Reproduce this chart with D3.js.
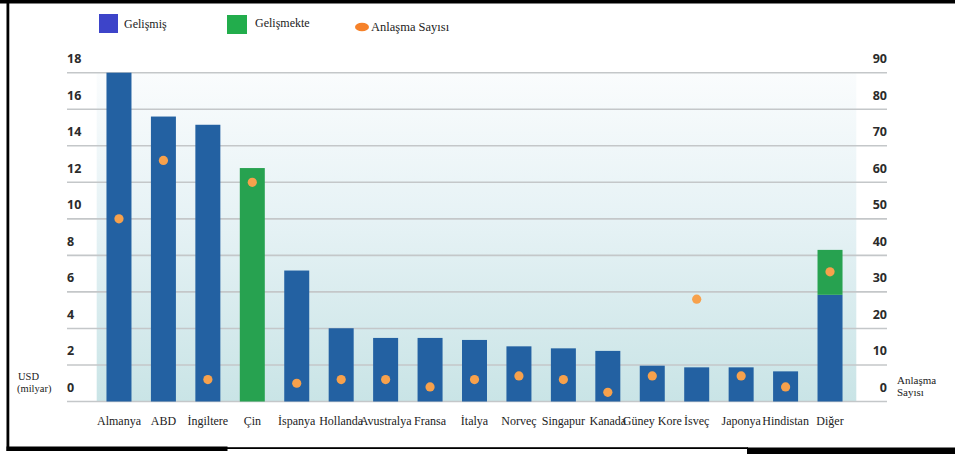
<!DOCTYPE html>
<html>
<head>
<meta charset="utf-8">
<script src="https://cdn.jsdelivr.net/npm/d3@7"></script>
<style>
  html, body { margin: 0; padding: 0; background: #fff; overflow: hidden; }
  svg { display: block; }
</style>
</head>
<body>
<svg id="chart" width="955" height="454"></svg>
<script>
// ---- data ----
const categories = ["Almanya", "ABD", "İngiltere", "Çin", "İspanya", "Hollanda", "Avustralya", "Fransa",
  "İtalya", "Norveç", "Singapur", "Kanada", "Güney Kore", "İsveç", "Japonya", "Hindistan", "Diğer"];
const developed  = [18, 15.6, 15.15, 0, 7.17, 4.01, 3.48, 3.48, 3.37, 3.02, 2.91, 2.77, 1.96, 1.87, 1.87, 1.65, 5.84];
const developing = [0, 0, 0, 12.78, 0, 0, 0, 0, 0, 0, 0, 0, 0, 0, 0, 0, 2.46];
const deals      = [50, 66, 6, 60, 5, 6, 6, 4, 6, 7, 6, 2.5, 7, 28, 7, 4, 35.5];
const leftTicks  = [0, 2, 4, 6, 8, 10, 12, 14, 16, 18];
const rightTicks = [0, 10, 20, 30, 40, 50, 60, 70, 80, 90];
const legendLabels = ["Gelişmiş", "Gelişmekte", "Anlaşma Sayısı"];

// ---- layout ----
const svg = d3.select("#chart");
const W = 955, H = 454;
const plotLeft = 96.7, plotRight = 852.3, plotTop = 72.7, plotBottom = 401.5;
const gridLeft = 67, gridRight = 887;

const x = d3.scaleBand().domain(categories).range([plotLeft, plotRight]).paddingInner(0.4375).paddingOuter(0.22);
const yL = d3.scaleLinear().domain([0, 18]).range([plotBottom, plotTop]);
const yR = d3.scaleLinear().domain([0, 90]).range([plotBottom, plotTop]);

const serif = "'Liberation Serif', 'Times New Roman', serif";
const sans = "'Open Sans', 'Noto Sans', sans-serif";

// background gradient of plot area
const defs = svg.append("defs");
const grad = defs.append("linearGradient").attr("id", "bg").attr("x1", 0).attr("y1", 0).attr("x2", 0).attr("y2", 1);
grad.append("stop").attr("offset", "0%").attr("stop-color", "#fafcfd");
grad.append("stop").attr("offset", "45%").attr("stop-color", "#e6f2f5");
grad.append("stop").attr("offset", "100%").attr("stop-color", "#c9e4e6");

svg.append("rect")
  .attr("x", x.range()[0]).attr("y", yL(18))
  .attr("width", x.range()[1] - x.range()[0] + 4).attr("height", yL(0) - yL(18))
  .attr("fill", "url(#bg)");

// gridlines
svg.append("g").selectAll("line").data(leftTicks).join("line")
  .attr("x1", gridLeft).attr("x2", gridRight)
  .attr("y1", d => yL(d)).attr("y2", d => yL(d))
  .attr("stroke", "#c4c7c9").attr("stroke-width", 1.6);

// left tick labels (above gridlines)
svg.append("g").selectAll("text").data(leftTicks).join("text")
  .attr("x", gridLeft).attr("y", d => yL(d) - 9.5)
  .attr("font-family", sans).attr("font-weight", 700).attr("font-size", 12.5)
  .attr("fill", "#2b2b2b")
  .text(d => d);

// right tick labels
svg.append("g").selectAll("text").data(rightTicks).join("text")
  .attr("x", gridRight).attr("y", d => yR(d) - 9.5)
  .attr("text-anchor", "end")
  .attr("font-family", sans).attr("font-weight", 700).attr("font-size", 12.5)
  .attr("fill", "#2b2b2b")
  .text(d => d);

// bars
const blue = "#2361a2", green = "#27a250";
const rows = categories.map((c, i) => ({ c, dev: developed[i], ing: developing[i], deal: deals[i] }));

svg.append("g").selectAll("rect").data(rows.filter(d => d.dev > 0)).join("rect")
  .attr("x", d => x(d.c)).attr("width", x.bandwidth())
  .attr("y", d => yL(d.dev)).attr("height", d => yL(0) - yL(d.dev))
  .attr("fill", blue);

svg.append("g").selectAll("rect").data(rows.filter(d => d.ing > 0)).join("rect")
  .attr("x", d => x(d.c)).attr("width", x.bandwidth())
  .attr("y", d => yL(d.dev + d.ing)).attr("height", d => yL(d.dev) - yL(d.dev + d.ing))
  .attr("fill", green);

// deal dots
svg.append("g").selectAll("circle").data(rows).join("circle")
  .attr("cx", d => x(d.c) + x.bandwidth() / 2)
  .attr("cy", d => yR(d.deal))
  .attr("r", 4.6)
  .attr("fill", "#f7a14c");

// category labels
svg.append("g").selectAll("text").data(categories).join("text")
  .attr("x", d => x(d) + x.bandwidth() / 2).attr("y", 425)
  .attr("text-anchor", "middle")
  .attr("font-family", serif).attr("font-size", 12)
  .attr("fill", "#222")
  .text(d => d);

// axis titles
const lt = svg.append("text").attr("font-family", serif).attr("font-size", 10.5).attr("fill", "#222");
lt.append("tspan").attr("x", 18).attr("y", 380).text("USD");
lt.append("tspan").attr("x", 17).attr("y", 392).text("(milyar)");
const rt = svg.append("text").attr("font-family", serif).attr("font-size", 11).attr("fill", "#222");
rt.append("tspan").attr("x", 897).attr("y", 384).text("Anlaşma");
rt.append("tspan").attr("x", 897).attr("y", 396).text("Sayısı");

// legend
const lg = svg.append("g");
lg.append("rect").attr("x", 99).attr("y", 14).attr("width", 19).attr("height", 19).attr("fill", "#3d44c9");
lg.append("text").attr("x", 124).attr("y", 28).attr("font-family", serif).attr("font-size", 12).attr("fill", "#222").text(legendLabels[0]);
lg.append("rect").attr("x", 227).attr("y", 15).attr("width", 20).attr("height", 19).attr("fill", "#22ad4c");
lg.append("text").attr("x", 255).attr("y", 27).attr("font-family", serif).attr("font-size", 12).attr("fill", "#222").text(legendLabels[1]);
lg.append("ellipse").attr("cx", 362).attr("cy", 27).attr("rx", 7).attr("ry", 4.3).attr("fill", "#f6822a");
lg.append("text").attr("x", 371).attr("y", 31).attr("font-family", serif).attr("font-size", 12.5).attr("fill", "#222").text(legendLabels[2]);

// frame (scanned document border)
svg.append("rect").attr("x", 0).attr("y", 0).attr("width", W).attr("height", 3.5).attr("fill", "#000");
svg.append("rect").attr("x", 6.5).attr("y", 0).attr("width", 2.8).attr("height", 451).attr("fill", "#000");
svg.append("rect").attr("x", 6.5).attr("y", 446.5).attr("width", 221).attr("height", 4.5).attr("fill", "#000");
svg.append("rect").attr("x", 227).attr("y", 447.2).attr("width", 521).attr("height", 1.8).attr("fill", "#000");
svg.append("rect").attr("x", 747).attr("y", 447.5).attr("width", 208).attr("height", 6.5).attr("fill", "#000");
</script>
</body>
</html>
